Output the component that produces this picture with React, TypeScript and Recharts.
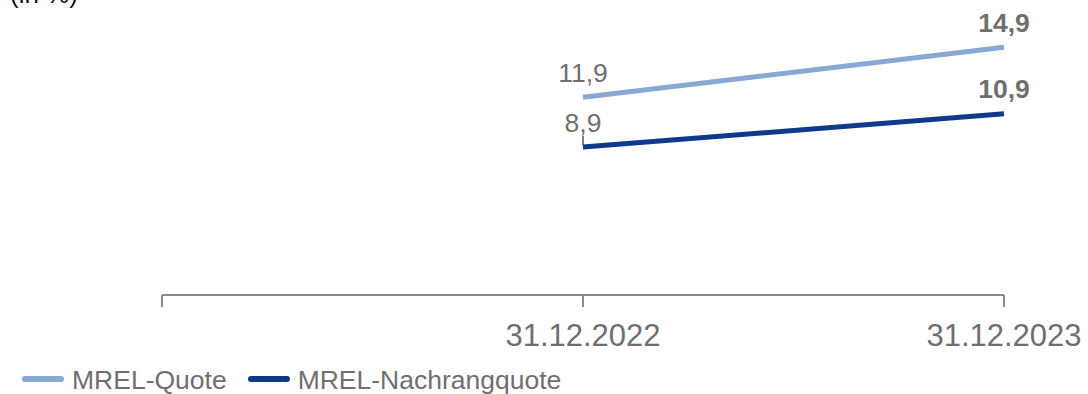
import React from "react";
import { LineChart, Line, XAxis, YAxis, LabelList } from "recharts";

const categories = ["", "31.12.2022", "31.12.2023"];
const mrelQuote = [null, 11.9, 14.9];
const mrelNachrangquote = [null, 8.9, 10.9];
const seriesNames = ["MREL-Quote", "MREL-Nachrangquote"];
const unitLabel = "(in %)";

const data = categories.map((c, i) => ({
  cat: c,
  q: mrelQuote[i],
  n: mrelNachrangquote[i],
}));

const FONT = "'Liberation Sans', Arial, sans-serif";
const GRAY = "#6f6f6f";
const LIGHT = "#87a9d4";
const DARK = "#0f3a8c";
const seriesColors = [LIGHT, DARK];

const fmt = (v: number) => String(v).replace(".", ",");

const makeLabel = (withLeader: boolean) => (props: any) => {
  const { x, y, value, index } = props;
  if (value == null) return null;
  const last = index === categories.length - 1;
  return (
    <g>
      {withLeader && !last ? (
        <line x1={x} x2={x} y1={y - 11} y2={y - 2} stroke="#000" strokeWidth={1} />
      ) : null}
      <text
        x={x}
        y={y - 15.5}
        textAnchor="middle"
        fontFamily={FONT}
        fontSize={26.5}
        fontWeight={last ? "bold" : "normal"}
        fill={GRAY}
      >
        {fmt(value)}
      </text>
    </g>
  );
};

export default function App() {
  return (
    <div style={{ position: "absolute", left: 0, top: 0, width: 1088, height: 394, background: "#fff", overflow: "hidden" }}>
      <svg width={200} height={20} style={{ position: "absolute", left: 0, top: 0 }}>
        <text x={10} y={3} fontFamily={FONT} fontSize={26} fill="#111">{unitLabel}</text>
      </svg>
      <LineChart
        width={1088}
        height={394}
        data={data}
        margin={{ top: 29, right: 84, bottom: 69, left: 162 }}
      >
        <XAxis
          dataKey="cat"
          height={30}
          tickSize={12}
          tickMargin={17}
          axisLine={{ stroke: "#8a8a8a", strokeWidth: 2 }}
          tickLine={{ stroke: "#8a8a8a", strokeWidth: 2 }}
          tick={{ fontFamily: FONT, fontSize: 31, fill: GRAY }}
          interval={0}
        />
        <YAxis hide domain={[0, 16]} />
        <Line
          type="linear"
          dataKey="q"
          name={seriesNames[0]}
          stroke={LIGHT}
          strokeWidth={5}
          dot={false}
          activeDot={false}
          isAnimationActive={false}
          connectNulls={false}
        >
          <LabelList dataKey="q" content={makeLabel(false)} />
        </Line>
        <Line
          type="linear"
          dataKey="n"
          name={seriesNames[1]}
          stroke={DARK}
          strokeWidth={5}
          dot={false}
          activeDot={false}
          isAnimationActive={false}
          connectNulls={false}
        >
          <LabelList dataKey="n" content={makeLabel(true)} />
        </Line>
      </LineChart>
      <div style={{ position: "absolute", left: 0, top: 366, display: "flex", alignItems: "center", height: 29, fontFamily: FONT, fontSize: 26.5, lineHeight: "29px", color: GRAY }}>
        {seriesNames.map((name, i) => (
          <div key={i} style={{ display: "flex", alignItems: "center", marginLeft: i === 0 ? 21 : 20 }}>
            <svg width={44} height={10} style={{ display: "block", marginTop: -4 }}>
              <line x1={4} x2={40} y1={5} y2={5} stroke={seriesColors[i]} strokeWidth={6} strokeLinecap="round" />
            </svg>
            <span style={{ marginLeft: 7, whiteSpace: "nowrap" }}>{name}</span>
          </div>
        ))}
      </div>
    </div>
  );
}
